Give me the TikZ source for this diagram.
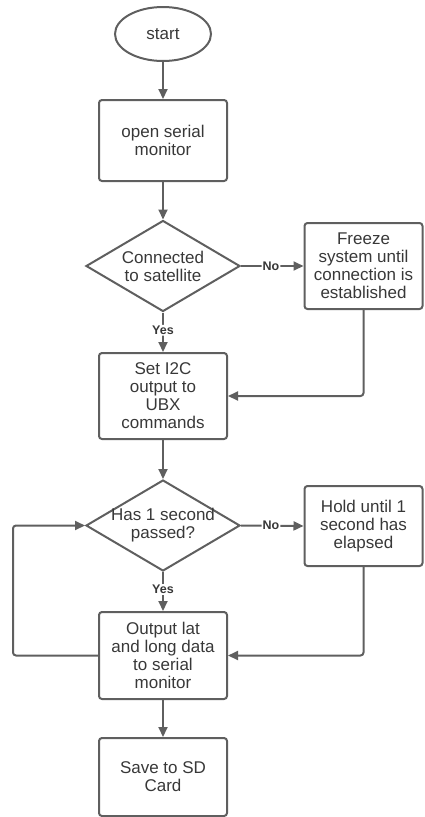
\documentclass[tikz,border=0pt]{standalone}
\usepackage{fontspec}
\setmainfont{Liberation Sans}
\usetikzlibrary{shapes.geometric,arrows.meta}
\definecolor{ln}{HTML}{5F5F5F}
\definecolor{tx}{HTML}{383838}
\begin{document}
\begin{tikzpicture}[x=1pt,y=-1pt,
  base/.style={draw=ln,line width=2pt,text=tx,align=center,inner sep=0pt,
    font=\fontsize{17}{18}\selectfont},
  procbox/.style={base,rectangle,rounded corners=3pt},
  termbox/.style={base,ellipse},
  decbox/.style={base,diamond},
  conn/.style={draw=ln,line width=2pt,-{Triangle[length=10pt,width=9pt]},rounded corners=3pt},
  lbl/.style={fill=white,inner sep=1pt,text=tx,font=\fontsize{12.5}{14}\selectfont\bfseries}]
\useasboundingbox (0,0) rectangle (424,817);
\node[termbox,minimum width=96pt,minimum height=54pt] (start) at (163,34) {start};
\node[procbox,minimum width=128pt,minimum height=81pt] (b1) at (163,140.5) {open serial\\monitor};
\node[decbox,minimum width=154pt,minimum height=91pt] (d1) at (163,266) {};
\node[text=tx,align=center,font=\fontsize{17}{18}\selectfont] (d1t) at (d1.center) {Connected\\to satellite};
\node[procbox,minimum width=118pt,minimum height=86pt] (fr) at (363.5,266) {Freeze\\system until\\connection is\\established};
\node[procbox,minimum width=128pt,minimum height=86pt] (b2) at (163,396) {Set I2C\\output to\\UBX\\commands};
\node[decbox,minimum width=154pt,minimum height=91pt] (d2) at (163,525.5) {};
\node[text=tx,align=center,font=\fontsize{17}{18}\selectfont] (d2t) at (d2.center) {Has 1 second\\passed?};
\node[procbox,minimum width=118pt,minimum height=80pt] (hold) at (363.5,526) {Hold until 1\\second has\\elapsed};
\node[procbox,minimum width=128pt,minimum height=87pt] (b3) at (163,655.5) {Output lat\\and long data\\to serial\\monitor};
\node[procbox,minimum width=128pt,minimum height=78pt] (b4) at (163,777) {Save to SD\\Card};
\coordinate (lp) at (13,0);
\draw[conn] (start) -- (b1);
\draw[conn] (b1) -- (d1);
\draw[conn] (d1.east) -- node[lbl,pos=0.48]{No} (fr.west);
\draw[conn] (d1.south) -- node[lbl,pos=0.45]{Yes} (b2.north);
\draw[conn] (fr.south) |- (b2.east);
\draw[conn] (b2) -- (d2);
\draw[conn] (d2.east) -- node[lbl,pos=0.48]{No} (hold.west);
\draw[conn] (d2.south) -- node[lbl,pos=0.45]{Yes} (b3.north);
\draw[conn] (hold.south) |- (b3.east);
\draw[conn] (b3.west) -- (b3.west -| lp) |- (d2.west);
\draw[conn] (b3) -- (b4);
\end{tikzpicture}
\end{document}
